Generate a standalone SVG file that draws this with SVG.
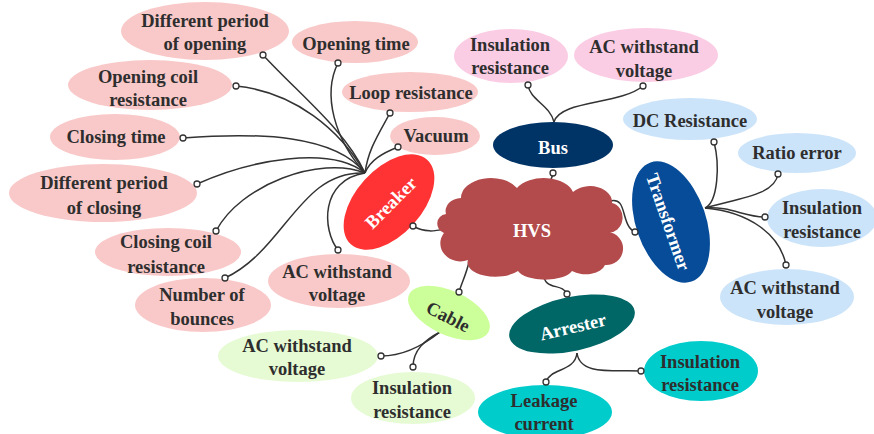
<svg xmlns="http://www.w3.org/2000/svg" width="874" height="434" viewBox="0 0 874 434">
<style>
text{font-family:"Liberation Serif","Times New Roman",serif;font-weight:bold;font-size:18.5px;text-anchor:middle;fill:#2e2e2e}
text.w{fill:#ffffff}
.brk{fill:#f9c9c9}
.bus{fill:#fbcde5}
.trf{fill:#cce4fa}
.cab{fill:#e6fbd4}
.arr{fill:#00cccc}
#connectors path{fill:none;stroke:#333;stroke-width:1.5}
.dot{fill:#fff;stroke:#333;stroke-width:1.3}
</style>
<rect width="874" height="434" fill="#fff"/>
<g id="connectors">
<path d="M263 55C300 95 345 130 365 173"/>
<path d="M338 63C322 95 335 140 365 173"/>
<path d="M236 86C295 92 340 130 365 173"/>
<path d="M390 113C378 135 368 150 365 173"/>
<path d="M183 138C260 132 335 135 365 173"/>
<path d="M398 147C383 153 370 160 365 173"/>
<path d="M197 184C250 160 330 145 365 173"/>
<path d="M216 231C240 185 320 155 365 173"/>
<path d="M225 278C285 250 300 170 365 173"/>
<path d="M338 250C322 230 320 180 365 173"/>
<path d="M413 226C425 233 435 231 446 229"/>
<path d="M550 183C551 178 553 176 553 173"/>
<path d="M554 122C550 105 530 100 528 85"/>
<path d="M554 122C560 100 620 105 643 86"/>
<path d="M610 201C628 196 620 225 635 232"/>
<path d="M469 262C466 275 462 282 459 292"/>
<path d="M543 272C544 292 562 282 567 294"/>
<path d="M705 208C718 202 720 165 714 142"/>
<path d="M705 208C740 198 775 195 778 174"/>
<path d="M705 208C730 206 745 217 765 217"/>
<path d="M705 208C750 212 780 235 786 265"/>
<path d="M440 332C420 348 400 356 381 356"/>
<path d="M440 332C425 340 413 350 413 367"/>
<path d="M577 353C575 372 550 368 546 382"/>
<path d="M577 353C580 375 610 370 641 371"/>
</g>
<g id="hvs">
<path fill="#b34a4b" d="M446 214A16 13 0 0 1 461 198A30 20 0 0 1 517 188A30 18 0 0 1 573 192A22 16 0 0 1 612 203A12 14 0 0 1 608 232A14 14 0 0 1 605 265A20 12 0 0 1 572 271A28 12 0 0 1 518 271A28 14 0 0 1 468 260A20 18 0 0 1 444 233A11 10 0 0 1 446 214Z"/>
<text class="w" x="532" y="237">HVS</text>
</g>
<g id="breaker">
<ellipse cx="389" cy="202" rx="57" ry="33" transform="rotate(-48 389 202)" fill="#ff3333"/>
<text class="w" x="391" y="209" transform="rotate(-45 391 203)">Breaker</text>
<circle class="dot" cx="413" cy="226" r="3"/>
</g>
<g id="bus">
<ellipse cx="553" cy="145" rx="60" ry="23" fill="#003366"/>
<text class="w" x="553" y="154">Bus</text>
<circle class="dot" cx="553" cy="173" r="3"/>
</g>
<g id="transformer">
<ellipse cx="671" cy="222" rx="63" ry="35" transform="rotate(71 671 222)" fill="#064c98"/>
<text class="w" x="668" y="228" transform="rotate(71 668 222)">Transformer</text>
<circle class="dot" cx="635" cy="232" r="3"/>
</g>
<g id="cable">
<ellipse cx="449" cy="313" rx="44" ry="22" transform="rotate(25 449 313)" fill="#ccff99"/>
<text x="448" y="323" transform="rotate(27 448 317)">Cable</text>
<circle class="dot" cx="459" cy="292" r="3"/>
</g>
<g id="arrester">
<ellipse cx="572" cy="324" rx="64" ry="27" transform="rotate(-12 572 324)" fill="#006666"/>
<text class="w" x="573" y="333" transform="rotate(-13 573 327)">Arrester</text>
<circle class="dot" cx="567" cy="294" r="3"/>
</g>
<g id="b-diff-open"><ellipse class="brk" cx="205" cy="31" rx="84" ry="29"/><text x="205" y="27">Different period</text><text x="205" y="50">of opening</text><circle class="dot" cx="263" cy="55" r="3"/></g>
<g id="b-open-time"><ellipse class="brk" cx="355" cy="42" rx="63" ry="21"/><text x="356" y="50">Opening time</text><circle class="dot" cx="338" cy="63" r="3"/></g>
<g id="b-open-coil"><ellipse class="brk" cx="150" cy="85" rx="82" ry="25"/><text x="148" y="83">Opening coil</text><text x="148" y="106">resistance</text><circle class="dot" cx="236" cy="86" r="3"/></g>
<g id="b-loop"><ellipse class="brk" cx="410" cy="92" rx="68" ry="20"/><text x="411" y="99">Loop resistance</text><circle class="dot" cx="390" cy="113" r="3"/></g>
<g id="b-close-time"><ellipse class="brk" cx="115" cy="137" rx="65" ry="23"/><text x="116" y="143">Closing time</text><circle class="dot" cx="183" cy="138" r="3"/></g>
<g id="b-vacuum"><ellipse class="brk" cx="435" cy="136" rx="45" ry="19"/><text x="436" y="142">Vacuum</text><circle class="dot" cx="398" cy="147" r="3"/></g>
<g id="b-diff-close"><ellipse class="brk" cx="103" cy="193" rx="94" ry="29"/><text x="104" y="189">Different period</text><text x="104" y="214">of closing</text><circle class="dot" cx="197" cy="184" r="3"/></g>
<g id="b-close-coil"><ellipse class="brk" cx="168" cy="252" rx="73" ry="24"/><text x="166" y="248">Closing coil</text><text x="166" y="273">resistance</text><circle class="dot" cx="216" cy="231" r="3"/></g>
<g id="b-bounces"><ellipse class="brk" cx="203" cy="305" rx="68" ry="27"/><text x="202" y="301">Number of</text><text x="202" y="325">bounces</text><circle class="dot" cx="225" cy="278" r="3"/></g>
<g id="b-ac"><ellipse class="brk" cx="339" cy="281" rx="71" ry="27"/><text x="337" y="278">AC withstand</text><text x="337" y="301">voltage</text><circle class="dot" cx="338" cy="250" r="3"/></g>
<g id="bus-ins"><ellipse class="bus" cx="511" cy="56" rx="57" ry="27"/><text x="510" y="51">Insulation</text><text x="510" y="74">resistance</text><circle class="dot" cx="528" cy="85" r="3"/></g>
<g id="bus-ac"><ellipse class="bus" cx="646" cy="55" rx="72" ry="27"/><text x="644" y="53">AC withstand</text><text x="644" y="77">voltage</text><circle class="dot" cx="643" cy="86" r="3"/></g>
<g id="t-dc"><ellipse class="trf" cx="690" cy="119" rx="67" ry="21"/><text x="690" y="127">DC Resistance</text><circle class="dot" cx="714" cy="142" r="3"/></g>
<g id="t-ratio"><ellipse class="trf" cx="797" cy="153" rx="59" ry="20"/><text x="797" y="159">Ratio error</text><circle class="dot" cx="778" cy="174" r="3"/></g>
<g id="t-ins"><ellipse class="trf" cx="822" cy="218" rx="55" ry="29"/><text x="822" y="214">Insulation</text><text x="822" y="238">resistance</text><circle class="dot" cx="765" cy="217" r="3"/></g>
<g id="t-ac"><ellipse class="trf" cx="787" cy="297" rx="67" ry="28"/><text x="785" y="294">AC withstand</text><text x="785" y="318">voltage</text><circle class="dot" cx="786" cy="265" r="3"/></g>
<g id="c-ac"><ellipse class="cab" cx="298" cy="356" rx="80" ry="26"/><text x="297" y="352">AC withstand</text><text x="297" y="375">voltage</text><circle class="dot" cx="381" cy="356" r="3"/></g>
<g id="c-ins"><ellipse class="cab" cx="413" cy="398" rx="62" ry="26"/><text x="412" y="394">Insulation</text><text x="412" y="418">resistance</text><circle class="dot" cx="413" cy="367" r="3"/></g>
<g id="a-leak"><ellipse class="arr" cx="545" cy="412" rx="67" ry="27"/><text x="544" y="407">Leakage</text><text x="544" y="430">current</text><circle class="dot" cx="546" cy="382" r="3"/></g>
<g id="a-ins"><ellipse class="arr" cx="701" cy="371" rx="57" ry="30"/><text x="700" y="368">Insulation</text><text x="700" y="391">resistance</text><circle class="dot" cx="641" cy="371" r="3"/></g>
</svg>
